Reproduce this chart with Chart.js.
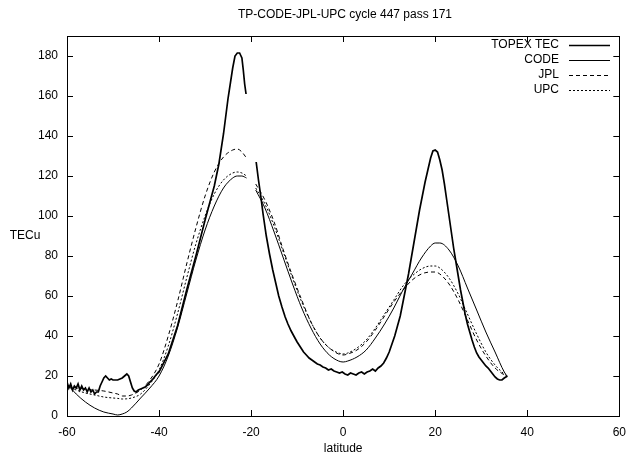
<!DOCTYPE html>
<html>
<head>
<meta charset="utf-8">
<script src="https://cdn.jsdelivr.net/npm/chart.js@4.4.0/dist/chart.umd.min.js"></script>
<style>
html,body{margin:0;padding:0;background:#fff;}
#wrap{position:relative;width:635px;height:456px;}
</style>
</head>
<body>
<div id="wrap"><canvas id="c" width="635" height="456"></canvas></div>
<script>
const chartTitle = "TP-CODE-JPL-UPC cycle 447 pass 171";
const xLabel = "latitude";
const yLabel = "TECu";
const xTicks = [-60, -40, -20, 0, 20, 40, 60];
const yTicks = [0, 20, 40, 60, 80, 100, 120, 140, 160, 180];
const seriesNames = ["TOPEX TEC", "CODE", "JPL", "UPC"];

const topexX = [-60,-59.6,-59.2,-58.8,-58.4,-58,-57.6,-57.2,-56.8,-56.4,-56,-55.6,-55.2,-54.8,-54.4,-54,-53.6,-53.2,-52.8,-52.4,-52,-51.6,-51.2,-50.8,-50.4,-50,-49.5,-49,-48.5,-48,-47.5,-47,-46.6,-46.2,-45.8,-45.4,-45,-44.5,-44,-43.5,-43,-42.5,-42,-41.5,-41,-40.5,-40,-38,-36,-34,-32,-30,-28,-27,-26,-25,-24,-23.5,-23,-22.5,-22,-21.7,-21.4,-21.1,
  -20,
  -18.9,-18.4,-17.9,-17.4,-16.7,-16,-15.3,-14.6,-14,-13.3,-12.6,-12,-11.3,-10.6,-10,-9.3,-8.6,-8,-7.4,-6.8,-6.2,-5.6,-5,-4.4,-3.8,-3.2,-2.6,-2,-1.4,-0.8,-0.2,0.4,1,1.6,2.2,2.8,3.4,4,4.6,5.2,5.8,6.4,7,7.6,8.2,8.8,9.4,10,10.6,11.2,11.8,12.4,13,13.6,14.2,14.8,15.4,16,16.6,17.2,17.8,18.4,19,19.5,20,20.5,21,21.5,22,22.5,23,23.5,24,24.5,25,25.5,26,26.5,27,27.5,28,28.5,29,29.5,30,30.5,31,31.5,32,32.5,33,33.5,34,34.5,35,35.7];
const topexY = [17,14,16,13,15,14,16,13,15,13,14,12,14,12,13,11,12,12,15,17,19,20,19,18,18.5,18,18,18,18.5,19,20,21,20,17,14,12.5,12,13,13.5,14,14.5,15.5,17,18,19.5,21,22,31,45,63,80,98,115,126,141,159,174,180,181.5,181.5,179,173,166,161,
  null,
  127,118,110,101,90,81,73,66,60,54.5,49.5,46,42.5,39.5,37,34.5,32,30.5,29,28,27,26,25.5,24.5,24,23,23.5,22.5,22,21.5,22,21,20.5,21.5,21,20.5,21.5,22,21,22,22.5,23.5,22.5,24,25,26.5,29,32,36,40,45,50,57,64,71,79,87,95,103,110,117,123,129,132.5,133,132,128,123,116,108,100,92,84,77,70,63,57,51,46,42,38,34.5,31.5,29.5,28,26.5,25,24,22.5,21,19.5,18.5,18,18,19,20];

const modelX = [-60,-58,-56,-54,-52,-50,-49,-48,-47,-46,-44,-42,-40,-38,-36,-34,-32,-30,-28,-26,-24,-23,-22,-21,
  -20,
  -19,-17,-15,-13,-11,-9,-7,-5,-3,-1,0,1,3,5,7,9,11,13,15,17,19,20,21,23,25,27,29,31,33,35,35.6];
const codeY = [16,11,7,4,2,1,0.5,1,2,4,9,14,20,30,44,61,78,93,105,114,119,120,120,119,
  null,
  113,104,92,79,66,54,44,36,30.5,27.5,27,27.5,29.5,33,39,46,54,63,71,79,85,86.5,86.5,83,75,64,53,42,32,22,20];
const jplY = [15,14,13.5,13,12.5,11.5,11,10,10,10.5,13,18,26,40,57,76,94,110,122,129.5,133,133.5,132,129,
  null,
  116,108,97,83,70,58,47,39,34,31,30.5,31,33,37,43,50,57,63,68,71,72,72,71,66,58,48,38,30,24,20.5,19.5];
const upcY = [15,13,11.5,10.5,9.5,9,8.8,8.5,8.6,9,11,16,23,35,51,69,86,100,111,118,121.5,122,121.5,120,
  null,
  114,106,95,82,69,57,47,39,34,31.5,31,31.5,34,38,44,51,58,65,70,73.5,75,75,74,69,61,51,41,32,25.5,21,20];

function pts(xs, ys){ return xs.map((x,i)=>({x:x, y:ys[i]})); }

const boxPlugin = {
  id: 'box',
  afterDraw(chart){
    const ctx = chart.ctx, a = chart.chartArea;
    const xs = chart.scales.x, ys = chart.scales.y;
    ctx.save();
    ctx.strokeStyle = '#000';
    ctx.lineWidth = 1;
    ctx.strokeRect(Math.round(a.left)+0.5, Math.round(a.top)+0.5, Math.round(a.right-a.left), Math.round(a.bottom-a.top));
    const tl = 6;
    ctx.beginPath();
    xTicks.forEach(v=>{
      const px = Math.round(xs.getPixelForValue(v))+0.5;
      ctx.moveTo(px, a.bottom); ctx.lineTo(px, a.bottom - tl);
      ctx.moveTo(px, a.top); ctx.lineTo(px, a.top + tl);
    });
    yTicks.forEach(v=>{
      const py = Math.round(ys.getPixelForValue(v))+0.5;
      ctx.moveTo(a.left, py); ctx.lineTo(a.left + tl, py);
      ctx.moveTo(a.right, py); ctx.lineTo(a.right - tl, py);
    });
    ctx.stroke();
    ctx.fillStyle = '#000';
    ctx.font = '12px "Liberation Sans", Arial, sans-serif';
    ctx.textAlign = 'center';
    ctx.textBaseline = 'middle';
    ctx.fillText(chartTitle, 345, 15);
    ctx.fillText(yLabel, 25, 236);
    const ds = chart.data.datasets;
    const rowY = [45, 60, 75, 90];
    ctx.textAlign = 'right';
    ds.forEach((d,i)=>{
      ctx.fillText(d.label, 559, rowY[i]);
      ctx.beginPath();
      ctx.lineWidth = d.borderWidth;
      ctx.setLineDash(d.borderDash || []);
      ctx.moveTo(569, rowY[i]+0.5); ctx.lineTo(610, rowY[i]+0.5);
      ctx.stroke();
    });
    ctx.setLineDash([]);
    ctx.restore();
  }
};

new Chart(document.getElementById('c'), {
  type: 'line',
  data: {
    datasets: [
      {label: seriesNames[0], data: pts(topexX, topexY), borderColor:'#000', borderWidth:1.7, tension:0, pointRadius:0, spanGaps:false},
      {label: seriesNames[1], data: pts(modelX, codeY), borderColor:'#000', borderWidth:1, cubicInterpolationMode:'monotone', pointRadius:0, spanGaps:false},
      {label: seriesNames[2], data: pts(modelX, jplY), borderColor:'#000', borderWidth:1, borderDash:[4,3], cubicInterpolationMode:'monotone', pointRadius:0, spanGaps:false},
      {label: seriesNames[3], data: pts(modelX, upcY), borderColor:'#000', borderWidth:1, borderDash:[2,2], cubicInterpolationMode:'monotone', pointRadius:0, spanGaps:false}
    ]
  },
  options: {
    responsive: false,
    animation: false,
    layout: {padding: {top: 36, right: 9, left: 0, bottom: 0}},
    plugins: {legend: {display:false}, tooltip:{enabled:false}, title:{display:false}},
    scales: {
      x: {
        type: 'linear', min: -60, max: 60,
        afterBuildTicks: s => { s.ticks = xTicks.map(v=>({value:v})); },
        afterFit: s => { s.height = 40; },
        grid: {display:false, drawTicks:false},
        border: {display:false},
        ticks: {color:'#000', font:{family:'"Liberation Sans", Arial, sans-serif', size:12}, padding:9, maxRotation:0},
        title: {display:true, text: xLabel, color:'#000', font:{family:'"Liberation Sans", Arial, sans-serif', size:12}, padding:{top:2,bottom:0}}
      },
      y: {
        type: 'linear', min: 0, max: 190,
        afterBuildTicks: s => { s.ticks = yTicks.map(v=>({value:v})); },
        afterFit: s => { s.width = 67; },
        grid: {display:false, drawTicks:false},
        border: {display:false},
        ticks: {color:'#000', font:{family:'"Liberation Sans", Arial, sans-serif', size:12}, padding:9}
      }
    }
  },
  plugins: [boxPlugin]
});
</script>
</body>
</html>
